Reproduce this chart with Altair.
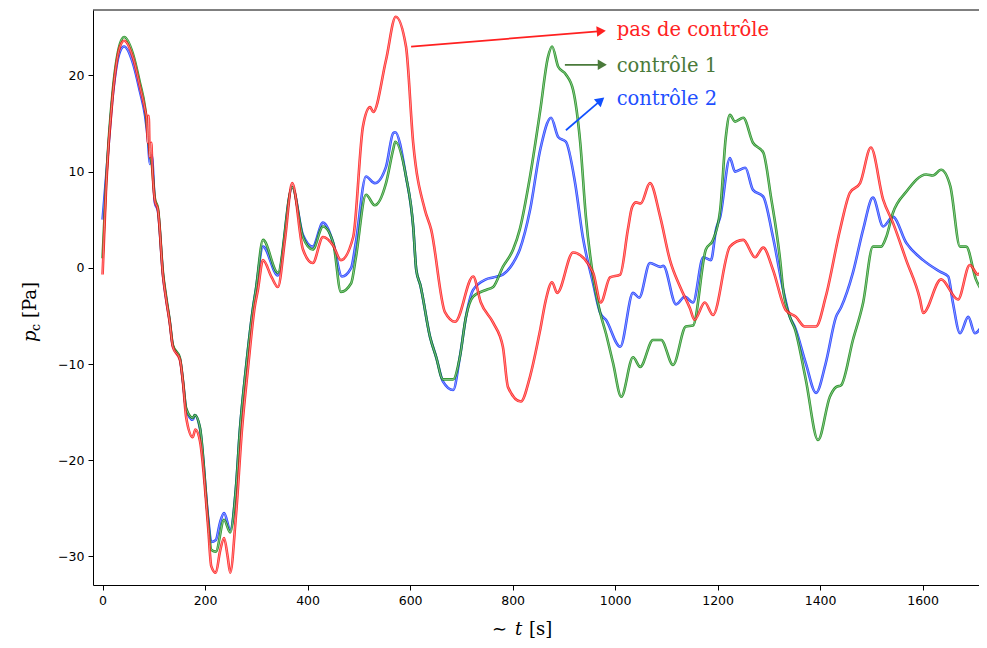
import altair as alt
import pandas as pd

# ---------------- data ----------------
t_red = [0, 7, 20, 34, 42, 59, 73, 83, 86, 88, 90, 92, 95, 97, 102, 108, 118, 124, 131, 137,
         151, 157, 163, 176, 181, 190, 206, 212, 221, 229, 237, 244, 249, 260, 272, 284, 297, 303,
         313, 330, 342, 356, 370, 391, 410, 430, 450, 465, 489, 508, 522, 528, 553, 572, 592, 606,
         629, 641, 668, 688, 723, 738, 762, 781, 791, 816, 834, 854, 865, 877, 887, 918, 957, 972,
         990, 1010, 1025, 1033, 1041, 1050, 1068, 1088, 1107, 1127, 1146, 1155, 1175, 1191, 1224,
         1250, 1273, 1289, 1308, 1333, 1353, 1370, 1392, 1411, 1439, 1458, 1478, 1499, 1523, 1542,
         1568, 1595, 1601, 1636, 1669, 1692, 1708, 1724]
p_red = [-0.7, 8.5, 18, 23, 23.6, 21.9, 18.8, 16.4, 15.5, 13, 15.8, 11.5, 13, 10.5, 7, 6, -0.9, -3.3, -5.7, -8.2,
         -9.6, -12, -15.5, -17.6, -16.8, -18, -27, -31, -31.7, -29.5, -28.1, -30, -31.7, -25.9, -16.8, -10.3, -4, -2.3,
         0.8, -1, -2, 3, 8.8, 1.9, 0.5, 3.2, 2.3, 0.8, 3.2, 14.7, 16.7, 16.2, 21.6, 26.1, 23, 13,
         6, 4, -4.6, -5.6, -0.9, -3.6, -5.7, -8.2, -12.4, -13.9, -11.3, -6.4, -3.3, -1.5, -2.6, 1.6, -0.5, -3.6,
         -1, -0.7, 4, 6.3, 6.8, 6.7, 8.8, 5.3, 0.8, -2, -4.2, -5.4, -3.6, -4.9, 2.2,
         2.9, 1.1, 2.1, -0.2, -4.4, -5.1, -6.1, -6.1, -3, 4, 7.8, 8.8, 12.5, 7.1, 4.7,
         0.8, -3.3, -4.7, -1.2, -3.3, 0.3, -0.7, 1.9]

t_green = [0, 7, 20, 34, 42, 59, 73, 83, 89, 92, 96, 102, 108, 118, 124, 131, 137, 151, 157, 163,
           176, 180, 190, 206, 212, 221, 237, 249, 260, 268, 280, 294, 299, 313, 342, 370, 391, 410,
           430, 450, 465, 485, 494, 514, 531, 553, 567, 571, 592, 606, 612, 620, 639, 651, 664, 684,
           697, 709, 723, 748, 762, 781, 801, 814, 834, 854, 869, 877, 889, 904, 918, 932, 943, 957,
           971, 982, 996, 1012, 1035, 1049, 1074, 1090, 1113, 1138, 1152, 1177, 1191, 1205, 1216,
           1224, 1234, 1250, 1269, 1289, 1304, 1322, 1328, 1341, 1351, 1372, 1396, 1419, 1431, 1441,
           1464, 1484, 1503, 1519, 1529, 1542, 1568, 1607, 1620, 1636, 1654, 1673, 1685, 1704, 1724]
p_green = [1, 9, 18.5, 23.3, 24, 22.3, 19.2, 16.6, 13.5, 12, 10.8, 7.2, 6.2, -0.6, -3, -5.5, -8, -9.4, -11.8, -14.6,
           -15.6, -15.3, -16.6, -26.3, -29.3, -29.5, -26.2, -27.5, -23, -16.8, -10.3, -4, -2.3, 2.9, -0.5, 8.4, 3.2, 1.9,
           4.3, 2.6, -2.5, -1.6, 1, 7.6, 6.5, 8.8, 12.3, 13.1, 9.5, 4.3, -0.2, -1.8, -7.2, -9.3, -11.6, -11.6,
           -9.3, -5.1, -3, -2.3, -2, 0.1, 1.9, 4, 9.5, 16.4, 21.9, 23, 20.9, 20.1, 18.5, 13, 5.3, -0.9,
           -4.7, -6.8, -9.9, -13.4, -9.3, -10.3, -7.5, -7.5, -10.1, -6.1, -6, 1.9, 2.9, 6, 13.6,
           15.9, 15.2, 15.6, 13, 12, 7.4, 0.8, -2.3, -5.1, -6.4, -11.6, -17.9, -13.4, -12.4, -12.2,
           -7.5, -3.6, 2.2, 2.2, 3.2, 5.7, 7.9, 9.7, 9.6, 10.2, 8.5, 2.2, 2.2, -1.2, -3]

t_blue = [0, 7, 20, 34, 42, 59, 73, 83, 89, 92, 96, 102, 108, 118, 124, 131, 137, 151, 157, 163,
          176, 180, 190, 206, 212, 221, 229, 237, 249, 260, 268, 280, 294, 299, 313, 342, 370, 391,
          410, 430, 450, 467, 485, 494, 514, 531, 553, 567, 571, 592, 606, 612, 620, 639, 651, 664,
          684, 697, 709, 723, 748, 762, 781, 801, 814, 834, 854, 875, 889, 904, 922, 937, 957, 971,
          982, 1010, 1035, 1047, 1068, 1088, 1094, 1119, 1136, 1152, 1172, 1187, 1197, 1205, 1224,
          1234, 1254, 1269, 1289, 1308, 1328, 1341, 1351, 1372, 1392, 1411, 1431, 1441, 1464, 1484,
          1503, 1523, 1542, 1568, 1601, 1634, 1650, 1659, 1673, 1689, 1702, 1724]
p_blue = [5, 9.5, 18, 22.5, 23, 21.3, 18.3, 15.8, 13, 10.8, 11.7, 6.8, 5.9, -0.8, -3.2, -5.6, -8.1, -9.5, -11.9, -14.7,
          -15.8, -15.3, -16.7, -26, -28.5, -28.3, -26.5, -25.5, -27.2, -23, -16.8, -10.3, -4, -2.3, 2.2, -0.8, 8.4, 3.4,
          2.2, 4.7, 2.6, -0.9, 0, 2.6, 9.5, 8.8, 10.5, 14, 14.1, 9.5, 4.3, -0.2, -1.8, -7.2, -9.3, -11.8,
          -12.7, -9.3, -5.1, -2.3, -1.2, -1, -0.7, 0.5, 1.9, 6, 12.3, 15.6, 13.6, 13.1, 8.8, 3.2, -1.6, -4.7,
          -5.4, -8.2, -2.6, -3.1, 0.5, 0.1, 0.2, -3.8, -3, -3.6, 1.1, 0.8, 4, 5.3, 11.4,
          10, 10.4, 8.1, 7.4, 3.2, -2.3, -5.1, -6.2, -9.9, -13, -9.9, -5.1, -4.1, -0.5, 4,
          7.3, 4.3, 5.3, 2.6, 0.8, -0.4, -0.9, -3.6, -6.8, -5.1, -6.8, -5.1]

# annotations (data coordinates)
ann_labels = ["pas de contrôle", "contrôle 1", "contrôle 2"]
ann_t = [1003, 1003, 1003]
ann_p = [24.7, 21.0, 17.6]
ann_colors = ["#ff2222", "#4a7a3a", "#1f4fff"]
arrow_t0 = [602, 902, 904]
arrow_p0 = [23.0, 21.1, 14.3]
arrow_t1 = [973, 975, 972]
arrow_p1 = [24.6, 21.1, 17.4]
arrow_angle = [85, 90, 50]
arrow_colors = ["#ff2020", "#4a7a3a", "#1050ff"]

x_ticks = [0, 200, 400, 600, 800, 1000, 1200, 1400, 1600]
y_ticks = [-30, -20, -10, 0, 10, 20]

# ---------------- chart ----------------
W, H = 886, 575
xs = alt.Scale(domain=[-18.7, 1710.0], nice=False, zero=False)
ys = alt.Scale(domain=[-32.97, 26.8], nice=False, zero=False)
axis_common = dict(title=None, grid=False, domain=True, domainColor="black", domainWidth=1,
                   tickSize=5, tickColor="black", tickWidth=1, labelFont="DejaVu Sans",
                   labelFontSize=12.5, labelColor="black", labelPadding=4, format="d")
xaxis = alt.Axis(values=x_ticks, **axis_common)
yaxis = alt.Axis(values=y_ticks, **axis_common)


def series(t, p, color):
    df = pd.DataFrame({"t": t, "p": p})
    base = alt.Chart(df).encode(
        x=alt.X("t:Q", scale=xs, axis=xaxis),
        y=alt.Y("p:Q", scale=ys, axis=yaxis),
    )
    outer = base.mark_line(color=color, strokeWidth=2.6, opacity=0.85, interpolate="monotone")
    inner = base.mark_line(color="white", strokeWidth=0.8, opacity=0.55, interpolate="monotone")
    return [outer, inner]


layers = []
layers += series(t_blue, p_blue, "#0a2cff")
layers += series(t_green, p_green, "#0b850b")
layers += series(t_red, p_red, "#ff0a0a")

arrows = pd.DataFrame({"t": arrow_t0, "p": arrow_p0, "t2": arrow_t1, "p2": arrow_p1,
                       "a": arrow_angle, "c": arrow_colors})
layers.append(alt.Chart(arrows).mark_rule(strokeWidth=1.7).encode(
    x=alt.X("t:Q", scale=xs, axis=xaxis), y=alt.Y("p:Q", scale=ys, axis=yaxis),
    x2="t2:Q", y2="p2:Q", color=alt.Color("c:N", scale=None)))
layers.append(alt.Chart(arrows).mark_point(shape="triangle-up", filled=True, size=110, opacity=1).encode(
    x=alt.X("t2:Q", scale=xs, axis=xaxis), y=alt.Y("p2:Q", scale=ys, axis=yaxis),
    angle=alt.Angle("a:Q", scale=None), color=alt.Color("c:N", scale=None)))

ann = pd.DataFrame({"t": ann_t, "p": ann_p, "label": ann_labels, "c": ann_colors})
layers.append(alt.Chart(ann).mark_text(font="DejaVu Serif", fontSize=19.5, align="left",
                                       baseline="middle").encode(
    x=alt.X("t:Q", scale=xs, axis=xaxis), y=alt.Y("p:Q", scale=ys, axis=yaxis),
    text="label:N", color=alt.Color("c:N", scale=None)))

one = pd.DataFrame({"z": [0]})
# top spine (the right one is cut off in the reference)
layers.append(alt.Chart(one).mark_rule(color="black", strokeWidth=1).encode(
    x=alt.value(0), x2=alt.value(W + 10), y=alt.value(0)))
# y-axis title: p_c [Pa]
YX, YY = -62, 302
layers.append(alt.Chart(one).mark_text(text="p", font="DejaVu Serif", fontStyle="italic", fontSize=18,
                                       angle=270, align="left", baseline="middle", dx=-30, color="black")
              .encode(x=alt.value(YX), y=alt.value(YY)))
layers.append(alt.Chart(one).mark_text(text="c", font="DejaVu Serif", fontSize=12.5,
                                       angle=270, align="left", baseline="middle", dx=-19, dy=5, color="black")
              .encode(x=alt.value(YX), y=alt.value(YY)))
layers.append(alt.Chart(one).mark_text(text="[Pa]", font="DejaVu Serif", fontSize=18,
                                       angle=270, align="left", baseline="middle", dx=-6, color="black")
              .encode(x=alt.value(YX), y=alt.value(YY)))
# x-axis title: ~ t [s]
XX, XY = 430, 620
layers.append(alt.Chart(one).mark_text(text="∼", font="DejaVu Sans", fontSize=18, align="left",
                                       baseline="middle", dx=-31, color="black")
              .encode(x=alt.value(XX), y=alt.value(XY)))
layers.append(alt.Chart(one).mark_text(text="t", font="DejaVu Serif", fontStyle="italic", fontSize=18,
                                       align="left", baseline="middle", dx=-8, color="black")
              .encode(x=alt.value(XX), y=alt.value(XY)))
layers.append(alt.Chart(one).mark_text(text="[s]", font="DejaVu Serif", fontSize=18, align="left",
                                       baseline="middle", dx=6, color="black")
              .encode(x=alt.value(XX), y=alt.value(XY)))

chart = alt.layer(*layers).properties(
    width=W, height=H,
    padding={"left": 85, "top": 2, "right": 0, "bottom": 55},
    autosize=alt.AutoSizeParams(type="none"),
    background="white",
).configure_view(stroke=None)

chart.save("out.html", embed_options={"renderer": "svg", "actions": False})
